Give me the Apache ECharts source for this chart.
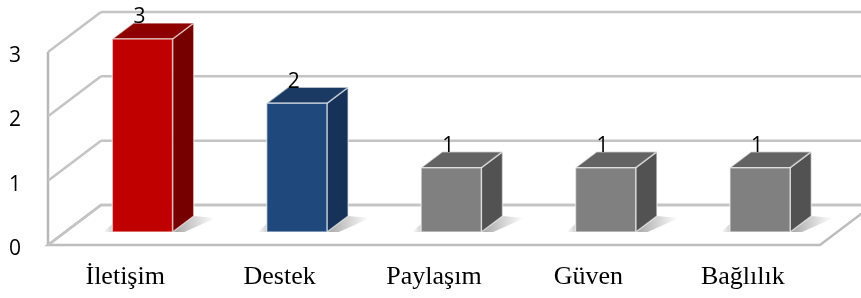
<!DOCTYPE html>
<html>
<head>
<meta charset="utf-8">
<script src="https://cdn.jsdelivr.net/npm/echarts@6/dist/echarts.min.js"></script>
<style>
    html, body { margin: 0; padding: 0; background: #fff; }
    #main { width: 861px; height: 298px; }
</style>
</head>
<body>
<div id="main"></div>
<script>
var categories = ['İletişim', 'Destek', 'Paylaşım', 'Güven', 'Bağlılık']
var values = [3, 2, 1, 1, 1]
var yTicks = [0, 1, 2, 3]

// depth of the 3d box, in pixels
var DX = 53
var DY = -40

function initChart() {
    this.init()
}
initChart.prototype = {
    constructor: initChart,
    init: function () {
        this.chart = echarts.init(document.getElementById('main'))
        this.render()
    },

    // front / top / side colours for each bar
    faces: [
        { front: '#c00000', top: '#8e0000', side: '#760000' },
        { front: '#1f497d', top: '#1b3a63', side: '#163258' },
        { front: '#808080', top: '#636363', side: '#525252' },
        { front: '#808080', top: '#636363', side: '#525252' },
        { front: '#808080', top: '#636363', side: '#525252' }
    ],

    // walls, floor and the value axis labels
    renderFrame: function (params, api) {
        var cs = params.coordSys
        var v = api.value(1)
        var y = api.coord([0, v])[1]
        var xl = cs.x
        var xr = cs.x + cs.width
        var line = { stroke: '#c4c4c4', lineWidth: 2.5 }
        var children = []
        if (v === 0) {
            var yTop = api.coord([0, yTicks[yTicks.length - 1]])[1]
            children.push({
                type: 'polygon',
                shape: { points: [[xl, y], [xr, y], [xr + DX, y + DY], [xl + DX, y + DY]] },
                style: { fill: '#fff', stroke: '#bdbdbd', lineWidth: 2.5 }
            })
            children.push({
                type: 'line',
                shape: { x1: xl, y1: y, x2: xl, y2: yTop },
                style: { stroke: '#b8b8b8', lineWidth: 2.5 }
            })
        }
        children.push({
            type: 'line',
            shape: { x1: xl + DX, y1: y + DY, x2: xr + DX, y2: y + DY },
            style: line
        })
        children.push({
            type: 'line',
            shape: { x1: xl, y1: y, x2: xl + DX, y2: y + DY },
            style: line
        })
        children.push({
            type: 'text',
            style: {
                text: String(v),
                x: xl - 27,
                y: y + 4,
                align: 'right',
                verticalAlign: 'middle',
                fontSize: 21,
                fontFamily: 'Open Sans',
                fill: '#000'
            }
        })
        return { type: 'group', children: children }
    },

    renderBar: function (params, api) {
        var i = api.value(0)
        var v = api.value(1)
        var base = api.coord([i, 0])
        var top = api.coord([i, v])
        var w = api.size([1, 0])[0] * 0.39
        var ox = DX * 0.325, oy = DY * 0.325
        var bx = DX * 0.4, by = DY * 0.4
        var xl = base[0] + ox - w / 2
        var xr = xl + w
        var yb = base[1] + oy
        var yt = top[1] + oy
        var c = this.faces[i]
        var edge = 'rgba(255,255,255,0.55)'
        return {
            type: 'group',
            children: [
                // soft shadows on the floor
                {
                    type: 'polygon',
                    shape: { points: [[xr, yb], [xr + bx, yb + by], [xr + bx + 22, yb + by + 2], [xr + 12, yb]] },
                    style: {
                        fill: new echarts.graphic.LinearGradient(0, 0, 1, 0, [
                            { offset: 0, color: 'rgba(0,0,0,0.35)' },
                            { offset: 1, color: 'rgba(0,0,0,0)' }
                        ])
                    }
                },
                {
                    type: 'polygon',
                    shape: { points: [[xl - 9, yb], [xl, yb - 8], [xl, yb]] },
                    style: {
                        fill: new echarts.graphic.LinearGradient(1, 0, 0, 0, [
                            { offset: 0, color: 'rgba(0,0,0,0.18)' },
                            { offset: 1, color: 'rgba(0,0,0,0)' }
                        ])
                    }
                },
                {
                    type: 'polygon',
                    shape: { points: [[xr, yt], [xr + bx, yt + by], [xr + bx, yb + by], [xr, yb]] },
                    style: { fill: c.side, stroke: edge, lineWidth: 1.5 }
                },
                {
                    type: 'polygon',
                    shape: { points: [[xl, yt], [xl + bx, yt + by], [xr + bx, yt + by], [xr, yt]] },
                    style: { fill: c.top, stroke: edge, lineWidth: 1.5 }
                },
                {
                    type: 'rect',
                    shape: { x: xl, y: yt, width: w, height: yb - yt },
                    style: { fill: c.front, stroke: edge, lineWidth: 1.5 }
                },
                {
                    type: 'text',
                    style: {
                        text: String(v),
                        x: (xl + xr) / 2 - 3,
                        y: yt + by + 5,
                        align: 'center',
                        verticalAlign: 'bottom',
                        fontSize: 21,
                        fontFamily: 'Open Sans',
                        fill: '#000'
                    }
                }
            ]
        }
    },

    render: function () {
        var self = this
        var option = {
            animation: false,
            grid: { left: 48, right: 41, top: 52, bottom: 53 },
            xAxis: {
                type: 'category',
                data: categories,
                axisLine: { show: false },
                axisTick: { show: false },
                axisLabel: {
                    margin: 19,
                    fontSize: 26,
                    fontFamily: 'Liberation Serif',
                    color: '#000'
                }
            },
            yAxis: {
                type: 'value',
                min: 0,
                max: 3,
                interval: 1,
                axisLine: { show: false },
                axisTick: { show: false },
                splitLine: { show: false },
                axisLabel: { show: false }
            },
            series: [
                {
                    type: 'custom',
                    z: 1,
                    clip: false,
                    silent: true,
                    data: yTicks.map(function (t) { return [0, t] }),
                    encode: { x: 0, y: 1 },
                    renderItem: function (params, api) { return self.renderFrame(params, api) }
                },
                {
                    type: 'custom',
                    z: 2,
                    clip: false,
                    data: values.map(function (v, i) { return [i, v] }),
                    encode: { x: 0, y: 1 },
                    renderItem: function (params, api) { return self.renderBar(params, api) }
                }
            ]
        }
        this.chart.setOption(option)
    }
}
new initChart()
</script>
</body>
</html>
